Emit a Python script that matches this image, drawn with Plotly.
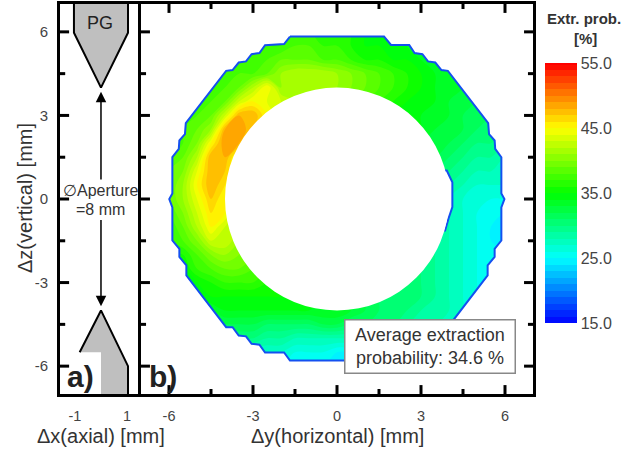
import plotly.graph_objects as go

x_grid = [-6.5,-6,-5.5,-5,-4.5,-4,-3.5,-3,-2.5,-2,-1.5,-1,-.5,0,.5,1,1.5,2,2.5,3,3.5,4,4.5,5,5.5,6,6.5]
y_grid = [6.5,6,5.5,5,4.5,4,3.5,3,2.5,2,1.5,1,.5,0,-.5,-1,-1.5,-2,-2.5,-3,-3.5,-4,-4.5,-5,-5.5,-6,-6.5]
extraction = [
[36,36,36,36,36,36,36,37,37,37,37,37,37,36,36,35,35,35,34,34,34,33,33,32,32,31,31],
[36,36,36,36,36,36,36,37,37,37,37,37,37,37,36,35,35,35,34,34,34,33,33,32,32,31,31],
[37,37,37,37,37,37,37,37,37,37,38,38,37,37,36,35,35,35,34,34,34,33,33,32,32,31,31],
[38,38,38,38,37,37,37,38,38,39,39,39,38,38,37,36,36,35,35,34,34,33,33,32,32,31,31],
[38,38,38,38,38,38,38,38,39,41,42,42,42,41,40,39,38,37,36,35,34,34,33,33,32,31,31],
[38,38,38,38,38,38,39,42,45,41,42,42,42,41,40,39,38,37,36,35,34,34,33,33,32,31,31],
[38,38,38,38,38,39,43,45,44,43,42,42,41,40,39,38,37,36,35,35,34,33,33,32,32,31,31],
[38,38,38,38,39,43,48,48,45,43,42,41,40,39,38,37,36,35,35,34,34,33,32,32,31,31,31],
[38,38,38,39,41,48,49,47,44,43,42,41,40,39,38,37,36,35,35,34,33,33,32,31,31,30,30],
[38,38,38,40,45,49,48,44,42,41,40,39,38,37,37,36,35,35,34,33,33,32,31,30,30,29,29],
[38,38,39,42,48,48,44,42,41,40,39,38,37,37,36,35,34,34,33,32,32,31,30,29,29,28,28],
[39,39,40,44,48,47,44,42,41,40,38,38,37,36,35,35,34,33,33,32,31,30,29,28,28,28,28],
[39,39,41,45,48,46,43,42,40,39,38,37,36,36,35,34,33,33,32,31,30,29,28,27,27,27,27],
[38,39,41,44,47,45,43,41,40,39,38,37,36,35,35,34,33,32,31,30,29,28,27,27,26,26,26],
[38,38,40,43,46,45,42,41,39,38,37,37,36,35,34,33,33,32,31,30,29,28,27,26,26,25,25],
[37,37,39,42,45,43,42,40,39,38,37,36,35,35,34,33,32,32,31,30,29,28,27,26,25,25,25],
[37,37,38,40,43,43,41,39,38,37,37,36,35,35,34,33,32,32,31,30,29,28,27,26,25,25,25],
[36,36,36,38,40,41,40,39,38,37,36,36,35,34,33,33,32,31,31,30,29,28,27,26,26,25,25],
[35,35,35,37,38,39,39,38,37,36,36,35,35,34,33,32,32,31,31,30,29,28,27,26,26,25,25],
[34,34,34,35,36,37,37,37,36,36,35,35,34,34,33,32,32,31,31,30,29,28,27,26,26,25,25],
[33,33,33,34,35,35,35,35,35,35,35,35,34,34,33,32,31,31,31,30,29,28,27,26,26,25,25],
[32,32,32,33,33,34,34,34,34,34,34,34,34,34,33,32,31,31,30,29,29,28,27,26,26,25,25],
[31,31,31,31,32,32,32,32,31,31,31,31,32,32,31,31,30,30,29,28,28,27,26,26,25,25,25],
[29,29,29,29,30,30,30,30,29,29,28,28,28,28,28,28,27,27,27,27,27,26,26,25,25,25,25],
[27,27,27,27,27,27,27,27,27,27,26,26,26,25,25,25,25,25,25,25,25,25,25,25,25,25,25],
[26,26,26,26,26,26,26,26,26,26,26,25,25,25,25,25,25,25,25,25,25,25,25,25,25,25,25],
[26,26,26,26,26,26,26,26,26,26,26,25,25,25,25,25,25,25,25,25,25,25,25,25,25,25,25],
]

outline_x = [-1.68,1.68,1.93,2.58,2.77,3.05,3.25,3.51,3.73,3.96,5.4,5.43,5.63,5.65,5.87,5.87,5.98,5.87,5.87,5.63,5.63,5.38,5.38,3.96,3.73,3.51,3.25,3.05,2.77,2.57,1.89,1.68,
             -1.68,-1.89,-2.57,-2.77,-3.05,-3.25,-3.51,-3.73,-3.96,-5.38,-5.38,-5.63,-5.63,-5.88,-5.88,-5.99,-5.88,-5.88,-5.65,-5.63,-5.43,-5.4,-3.96,-3.73,-3.51,-3.25,-3.05,-2.77,-2.57,-1.89,-1.68]
outline_y = [5.83,5.83,5.53,5.53,5.24,5.2,4.94,4.9,4.63,4.6,2.72,2.33,2.1,1.8,1.5,0.2,0,-0.3,-1.49,-1.79,-2.08,-2.38,-2.74,-4.6,-4.6,-4.9,-4.93,-5.2,-5.23,-5.51,-5.51,-5.8,
             -5.8,-5.51,-5.51,-5.23,-5.2,-4.93,-4.9,-4.6,-4.6,-2.74,-2.38,-2.08,-1.79,-1.49,-0.3,0,0.2,1.5,1.8,2.1,2.33,2.72,4.6,4.63,4.9,4.94,5.2,5.24,5.52,5.56,5.83]
frame_x = [-1.68,-6.52,-6.52,6.52,6.52,-1.68]
frame_y = [6.52,6.52,-6.52,-6.52,6.52,6.52]
notch_x = [3.7,3.92,4.12,4.12,3.98,3.86,3.7]
notch_y = [1.02,1.02,0.6,-0.29,-0.71,-1.13,-1.13]
hole_radius = 4

pg_top_x = [-1.04,-1.04,0,1.04,1.04]
pg_top_y = [7,5.97,4,5.97,7]
pg_bot_fill_x = [-0.82,0,1.04,1.04,0,0,-0.82]
pg_bot_fill_y = [-5.5,-4,-6,-7,-7,-5.5,-5.5]
pg_bot_line_x = [-0.82,0,1.04,1.04]
pg_bot_line_y = [-5.5,-4,-6,-7]

major_ticks = [-6,-3,0,3,6]
major_labels = ["-6","-3","0","3","6"]
minor_ticks = [-4.5,-1.5,1.5,4.5]
ax_a_ticks = [-1,1]
ax_a_labels = ["-1","1"]
cb_ticks = [15,25,35,45,55]
cb_labels = ["15.0","25.0","35.0","45.0","55.0"]

W, H = 624, 451
FONT = "Liberation Sans"
TICK = "#444444"
TITLE = "#333333"
GRAY = "#bfbfbf"
A_LEFT, A_RIGHT = -1.577, 1.54
LIM = 7
MAJ_B, MIN_B = 0.32, 0.18
MAJ_A, MIN_A = 0.35, 0.2

def py(p):
    return 1 - p / H

def tick_shape(xa, ya, x0, x1, y0, y1):
    return dict(type="line", xref=xa, yref=ya, x0=x0, x1=x1, y0=y0, y1=y1,
                line=dict(color="black", width=3), layer="above")

tick_shapes = []
for vals, a_len, b_len in ((major_ticks, MAJ_A, MAJ_B), (minor_ticks, MIN_A, MIN_B)):
    for v in vals:
        tick_shapes += [
            tick_shape("x", "y", A_LEFT, A_LEFT + a_len, v, v),
            tick_shape("x2", "y2", -LIM, -LIM + b_len, v, v),
            tick_shape("x2", "y2", LIM, LIM - b_len, v, v),
            tick_shape("x2", "y2", v, v, -LIM, -LIM + b_len),
            tick_shape("x2", "y2", v, v, LIM, LIM - b_len),
        ]

fig = go.Figure()

fig.add_trace(go.Contour(
    x=x_grid, y=y_grid, z=extraction, xaxis="x2", yaxis="y2",
    contours=dict(start=15, end=55, size=1, coloring="fill", showlines=False),
    line=dict(width=0), zmin=15, zmax=55,
    colorscale=[[0,"#0000ff"],[0.25,"#00ffff"],[0.5,"#00ff00"],[0.75,"#ffff00"],[1,"#ff0000"]],
    colorbar=dict(x=545/W, xanchor="left", y=py(323), yanchor="bottom",
                  lenmode="pixels", len=260, thicknessmode="pixels", thickness=32,
                  xpad=0, ypad=0, outlinewidth=0, ticks="", tickvals=cb_ticks, ticktext=cb_labels,
                  tickfont=dict(family=FONT, size=16, color=TICK)),
    hoverinfo="skip"))

fig.add_trace(go.Scatter(x=frame_x+outline_x, y=frame_y+outline_y, xaxis="x2", yaxis="y2",
    mode="lines", line=dict(width=0), fill="toself", fillcolor="white", hoverinfo="skip", showlegend=False))
fig.add_trace(go.Scatter(x=outline_x, y=outline_y, xaxis="x2", yaxis="y2",
    mode="lines", line=dict(color="#1450f0", width=2), hoverinfo="skip", showlegend=False))
fig.add_trace(go.Scatter(x=notch_x, y=notch_y, xaxis="x2", yaxis="y2",
    mode="lines", line=dict(color="#1450f0", width=2), fill="toself", fillcolor="white", hoverinfo="skip", showlegend=False))

fig.add_trace(go.Scatter(x=pg_top_x, y=pg_top_y, mode="lines", line=dict(color="black", width=2),
    fill="toself", fillcolor=GRAY, hoverinfo="skip", showlegend=False))
fig.add_trace(go.Scatter(x=pg_bot_fill_x, y=pg_bot_fill_y, mode="lines", line=dict(width=0),
    fill="toself", fillcolor=GRAY, hoverinfo="skip", showlegend=False))
fig.add_trace(go.Scatter(x=pg_bot_line_x, y=pg_bot_line_y, mode="lines", line=dict(color="black", width=2),
    hoverinfo="skip", showlegend=False))

axis_common = dict(showgrid=False, zeroline=False, showline=True, linecolor="black", linewidth=3, ticks="")

def ann(text, px, pyy, size, color=TITLE, bold=False, **kw):
    t = f"<b>{text}</b>" if bold else text
    return dict(text=t, x=px/W, y=py(pyy), xref="paper", yref="paper", showarrow=False,
                xanchor="center", yanchor="middle", font=dict(family=FONT, size=size, color=color), **kw)

annotations = [
    ann("PG", 100, 23, 18, "#222222"),
    ann("\u2205Aperture", 100, 190, 16),
    ann("=8 mm", 100, 210, 16),
    ann("a)", 80, 376, 30, "#222222", bold=True),
    ann("b)", 163, 376, 30, "#222222", bold=True),
    ann("Extr. prob.", 584, 18, 15, "#333333", bold=True),
    ann("[%]", 585, 39, 15, "#333333", bold=True),
    ann("\u0394x(axial) [mm]", 101, 436, 20),
    ann("\u0394y(horizontal) [mm]", 337, 436, 20),
    ann("\u0394z(vertical) [mm]", 25, 198, 20, textangle=-90),
    dict(text="Average extraction<br>probability: 34.6 %", x=429.5/W, y=py(346), xref="paper", yref="paper",
         showarrow=False, xanchor="center", yanchor="middle", align="center",
         font=dict(family=FONT, size=18, color=TITLE), bgcolor="white", bordercolor="#888888", borderwidth=1.5,
         width=169, height=52, borderpad=0),
    dict(text="", x=0, y=3.85, ax=0, ay=0.65, xref="x", yref="y", axref="x", ayref="y", showarrow=True,
         arrowhead=2, arrowsize=1.4, arrowwidth=1.5, arrowcolor="black"),
    dict(text="", x=0, y=-3.85, ax=0, ay=-0.7, xref="x", yref="y", axref="x", ayref="y", showarrow=True,
         arrowhead=2, arrowsize=1.4, arrowwidth=1.5, arrowcolor="black"),
]

fig.update_layout(
    width=W, height=H, margin=dict(l=0, r=0, t=0, b=0), showlegend=False,
    paper_bgcolor="white", plot_bgcolor="white",
    xaxis=dict(domain=[60/W, 141/W], range=[A_LEFT, A_RIGHT], tickmode="array", tickvals=ax_a_ticks, ticktext=ax_a_labels,
               ticklabelstandoff=7, tickfont=dict(family=FONT, size=14.5, color=TICK),
               anchor="y", mirror=True, **axis_common),
    yaxis=dict(domain=[py(394), py(4)], range=[-LIM, LIM], tickmode="array", tickvals=major_ticks, ticktext=major_labels,
               ticklabelstandoff=6, tickfont=dict(family=FONT, size=15, color=TICK),
               anchor="x", mirror=False, **axis_common),
    xaxis2=dict(domain=[141/W, 533/W], range=[-LIM, LIM], tickmode="array", tickvals=major_ticks, ticktext=major_labels,
                ticklabelstandoff=7, tickfont=dict(family=FONT, size=14.5, color=TICK),
                anchor="y2", mirror=True, **axis_common),
    yaxis2=dict(domain=[py(394), py(4)], range=[-LIM, LIM], tickmode="array", tickvals=major_ticks, showticklabels=False,
                anchor="x2", mirror=True, **axis_common),
    shapes=[dict(type="circle", xref="x2", yref="y2", x0=-hole_radius, x1=hole_radius,
                 y0=-hole_radius, y1=hole_radius, fillcolor="white", line=dict(width=0), layer="above")] + tick_shapes,
    annotations=annotations,
)

fig.write_html("out.html", config={"displayModeBar": False},
               post_script="document.body.style.margin='0';document.documentElement.style.overflow='hidden';")
